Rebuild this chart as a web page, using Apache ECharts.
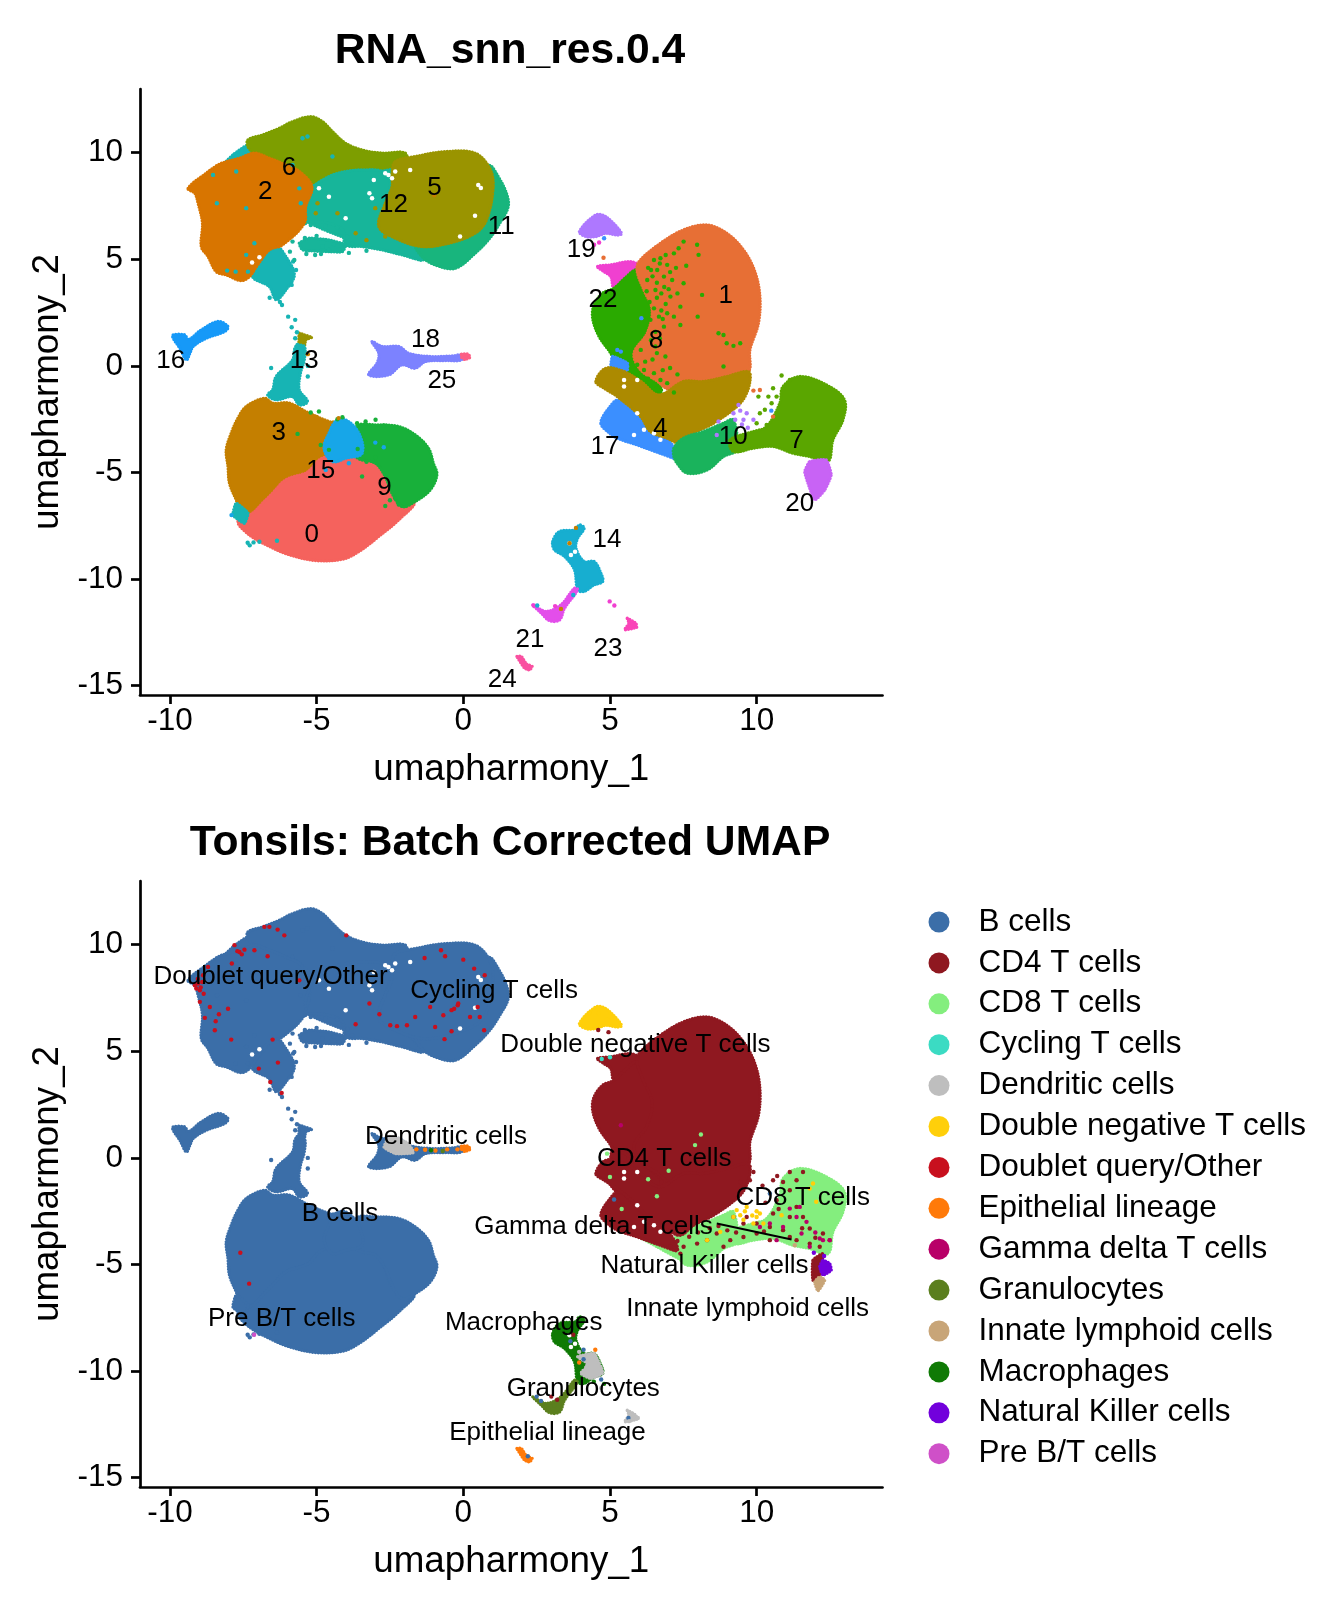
<!DOCTYPE html>
<html><head><meta charset="utf-8">
<script src="https://cdn.jsdelivr.net/npm/echarts@6/dist/echarts.min.js"></script>
<style>html,body{margin:0;padding:0;background:#fff}#c{width:1344px;height:1612px}</style></head>
<body><div id="c"></div>
<script>
const xTicks=[-10,-5,0,5,10];
const yTicks=[-15,-10,-5,0,5,10];
const cellTypes=['B cells','CD4 T cells','CD8 T cells','Cycling T cells','Dendritic cells','Double negative T cells','Doublet query/Other','Epithelial lineage','Gamma delta T cells','Granulocytes','Innate lymphoid cells','Macrophages','Natural Killer cells','Pre B/T cells'];
const cellColors=['#3B6EA8','#8F1820','#84EE7E','#3BDBC3','#BEBEBE','#FFCF0A','#C8101E','#FF7A0A','#B80068','#5B7F1E','#C8A578','#0F7A05','#7200DC','#CF50C8'];
const hue=['#F5625D','#E76F35','#D87500','#C47F00','#AC8A00','#9A9400','#7D9E00','#5AA600','#2AAA00','#18B03A','#1AB35C','#18B57D','#17B59A','#17B4B4','#17AED0','#17A6E8','#1699F8','#3B8FFF','#7C82FF','#AE78FF','#C863F5','#E34EEA','#F040D0','#F945B8','#F950A0','#FC5F85'];

// cluster outlines, in UMAP units
const out2=[[-9.38,8.33],[-8.76,9.04],[-8.36,9.43],[-8.08,9.58],[-7.63,9.74],[-7.12,9.98],[-6.61,9.74],[-6.05,9.43],[-5.59,9.12],[-5.16,8.41],[-5.37,7.47],[-5.42,6.69],[-6.16,5.68],[-6.61,5.44],[-7.01,4.74],[-7.29,4.19],[-7.57,4.0],[-8.08,4.27],[-8.42,4.42],[-8.7,5.13],[-8.93,5.6],[-8.89,6.69],[-9.04,7.63],[-9.15,8.1]];
const out6=[[-7.34,10.6],[-6.84,10.84],[-6.27,11.15],[-5.82,11.46],[-5.2,11.69],[-4.8,11.46],[-4.46,10.99],[-4.01,10.44],[-3.45,10.13],[-2.77,9.98],[-1.98,9.98],[-1.98,9.4],[-2.66,9.1],[-3.45,9.1],[-4.12,8.95],[-4.69,8.6],[-5.2,8.3],[-5.59,9.12],[-6.05,9.43],[-6.61,9.74],[-7.12,9.98],[-7.34,10.29]];
const outFrag=[[-8.14,9.51],[-7.85,9.9],[-7.34,10.37],[-7.12,10],[-7.63,9.74],[-8.08,9.43]];
const outFillUp=[[-5.2,8.4],[-2.5,9.2],[-1.5,9.4],[-1.6,5.4],[-2.5,5.7],[-4.0,6.0],[-5.3,6.8]];
const out12=[[-5.2,8.26],[-4.58,8.88],[-4.01,9.12],[-3.45,9.19],[-2.77,9.12],[-2.49,8.57],[-2.66,7.63],[-2.88,6.69],[-2.43,6.07],[-1.75,5.6],[-1.36,4.97],[-2.09,5.21],[-2.77,5.44],[-3.45,5.6],[-4.01,5.68],[-4.12,6.38],[-4.58,6.69],[-5.2,6.77],[-5.42,6.69],[-5.25,7.47]];
const outStripe=[[-5.59,5.75],[-5.25,5.99],[-4.58,5.91],[-4.01,5.68],[-4.12,5.36],[-4.58,5.36],[-5.48,5.44]];
const out5=[[-2.32,9.58],[-1.64,9.82],[-0.62,10.05],[0.4,9.98],[0.9,9.27],[1.02,8.41],[0.79,6.85],[0.4,6.22],[-0.51,5.75],[-1.41,5.6],[-2.32,5.99],[-2.88,6.54],[-2.66,7.63],[-2.43,8.41],[-2.43,9.04]];
const out11=[[0.9,9.4],[1.19,8.88],[1.47,8.1],[1.53,7.47],[1.24,6.69],[0.9,5.99],[0.4,5.28],[-0.28,4.58],[-0.96,4.74],[-1.41,5.13],[-1.64,5.8],[-0.51,6.2],[0.2,6.6],[0.6,7],[0.8,8.41]];
const outLobe=[[-7.18,4.19],[-6.84,4.97],[-6.38,5.6],[-6.05,5.13],[-5.76,4.27],[-6.05,3.56],[-6.38,3.1],[-6.61,3.72]];
const outStem=[[-5.71,0.91],[-5.42,0.91],[-5.42,0.28],[-5.55,-0.34],[-5.59,-1.13],[-5.31,-1.67],[-5.59,-1.83],[-5.82,-1.44],[-6.38,-1.59],[-6.67,-1.36],[-6.5,-1.13],[-6.38,-0.5],[-5.82,0.28]];
const outStemTop=[[-5.59,1.53],[-5.42,1.45],[-5.16,1.34],[-5.37,1.22],[-5.42,0.91],[-5.59,0.91]];
const out16=[[-9.89,1.45],[-9.49,1.45],[-9.38,1.22],[-8.93,1.69],[-8.36,2.08],[-8.02,1.84],[-8.14,1.61],[-8.76,1.3],[-9.21,0.91],[-9.32,0.59],[-9.44,0.28],[-9.66,0.83],[-9.89,1.3]];
const out18=[[-3.11,1.14],[-2.77,0.91],[-2.2,0.91],[-1.86,0.59],[-1.13,0.44],[-0.34,0.47],[-0.06,0.52],[-0.06,0.28],[-0.62,0.25],[-1.3,0.2],[-1.64,-0.11],[-2.09,0.05],[-2.54,-0.42],[-3.22,-0.42],[-2.94,0.13],[-2.88,0.59]];
const out25=[[-0.06,0.55],[0.17,0.55],[0.23,0.4],[0.05,0.3],[-0.06,0.4]];
const out3=[[-8.08,-3.94],[-7.91,-3.16],[-7.68,-2.45],[-7.4,-1.91],[-6.78,-1.52],[-6.5,-1.75],[-5.93,-1.75],[-5.37,-2.14],[-4.58,-2.61],[-4.2,-2.69],[-4.2,-3.31],[-4.4,-4.25],[-5.03,-4.72],[-5.37,-5.03],[-6.05,-5.35],[-6.5,-5.97],[-6.84,-6.44],[-7.18,-6.91],[-7.51,-7.07],[-7.74,-6.29],[-7.97,-5.5],[-8.02,-4.72]];
const out0=[[-7.68,-7.3],[-7.29,-7.93],[-6.61,-8.47],[-5.93,-8.86],[-5.03,-9.13],[-4.12,-9.07],[-3.56,-8.71],[-2.88,-8.0],[-2.2,-7.22],[-1.66,-6.36],[-2.43,-5.97],[-2.66,-5.19],[-2.88,-4.57],[-3.56,-4.2],[-4.46,-4.2],[-4.9,-4.4],[-5.2,-4.85],[-5.37,-5.03],[-6.05,-5.35],[-6.5,-5.97],[-6.84,-6.44],[-7.18,-6.91]];
const out9=[[-3.65,-2.85],[-2.99,-2.77],[-2.2,-2.85],[-1.64,-3.24],[-1.19,-3.86],[-1.02,-4.57],[-0.9,-5.11],[-1.13,-5.82],[-1.64,-6.36],[-2.09,-6.6],[-2.43,-5.97],[-2.66,-5.19],[-2.99,-4.57],[-3.65,-4.25]];
const out15=[[-4.35,-2.61],[-4.01,-2.53],[-3.56,-3.16],[-3.45,-4.1],[-4.01,-4.33],[-4.46,-4.49],[-4.75,-3.86],[-4.58,-3.16]];
const outLowTeal=[[-7.85,-7.0],[-7.74,-6.44],[-7.34,-6.91],[-7.46,-7.38]];
const out1=[[5.99,4.89],[6.72,5.75],[7.51,6.38],[8.31,6.61],[8.98,6.22],[9.55,5.44],[9.94,4.42],[10.11,3.25],[10.06,2.0],[9.77,0.75],[9.72,-0.27],[8.98,-0.7],[8.19,-1.0],[7.51,-1.0],[7.0,-1.1],[6.6,-0.7],[6.05,-0.19],[5.82,0.59],[6.27,1.53],[6.44,2.63],[6.16,3.56],[5.93,4.42]];
const out8=[[5.14,3.64],[5.5,4.1],[5.93,4.5],[6.3,3.56],[6.5,2.63],[6.3,1.53],[5.9,0.59],[6.1,-0.19],[6.72,-0.97],[6.72,-1.28],[6.2,-1.2],[5.6,-0.5],[5.2,0.1],[5.03,0.59],[4.63,1.38],[4.41,2.24],[4.46,2.86],[4.75,3.41]];
const out4=[[4.52,-0.73],[4.86,-0.11],[5.48,-0.27],[6.05,-0.73],[6.67,-1.36],[7.51,-0.73],[8.19,-0.73],[8.98,-0.5],[9.72,-0.27],[9.77,-0.73],[9.6,-1.44],[9.32,-1.91],[8.53,-2.69],[7.85,-3.16],[7.4,-3.63],[6.95,-3.39],[6.38,-3.08],[6.05,-2.38],[5.25,-1.44],[4.8,-1.05]];
const out10=[[7.18,-3.86],[7.51,-3.39],[8.19,-3.08],[8.87,-2.69],[9.21,-2.53],[9.3,-3.94],[8.87,-4.25],[8.31,-4.88],[7.63,-5.03],[7.29,-4.57],[7.18,-4.25]];
const out7=[[9.1,-3.47],[9.89,-3.08],[10.34,-2.85],[10.79,-1.75],[10.9,-0.97],[11.47,-0.5],[12.37,-0.89],[12.99,-1.59],[12.94,-2.53],[12.6,-3.47],[12.43,-4.49],[11.81,-4.25],[11.24,-4.1],[10.56,-3.78],[9.89,-3.86],[9.21,-4.02]];
const out20=[[11.81,-4.49],[12.37,-4.41],[12.54,-5.11],[12.32,-5.82],[11.98,-6.29],[11.75,-5.5],[11.64,-4.96]];
const out17=[[4.69,-2.69],[4.92,-2.06],[5.3,-1.6],[6.05,-2.5],[6.4,-3.0],[7.0,-3.5],[7.3,-4.33],[6.72,-4.1],[5.93,-3.71],[5.25,-3.39],[4.92,-3.08]];
const out17b=[[5.09,0.44],[5.59,0.13],[5.59,-0.19],[5.2,-0.42],[5.03,-0.03]];
const out22=[[4.58,4.66],[5.03,4.74],[5.71,4.89],[5.99,4.66],[5.59,3.96],[5.14,3.64],[5.03,4.19],[4.8,4.42]];
const out19=[[3.96,6.3],[4.52,7.08],[4.86,7.0],[5.4,6.22],[5.25,6.14],[4.86,6.22],[4.52,6.07],[4.18,6.07]];
const out14=[[3.05,-8.24],[3.28,-7.77],[3.84,-7.69],[3.95,-7.46],[4.12,-7.61],[3.9,-8.08],[3.84,-8.55],[4.12,-9.18],[4.46,-9.18],[4.69,-9.73],[4.75,-10.12],[4.46,-10.27],[4.12,-10.58],[3.9,-10.5],[3.79,-9.57],[3.45,-8.94],[3.11,-8.63]];
const out21=[[2.37,-11.21],[2.82,-11.52],[3.33,-11.21],[3.79,-10.43],[3.9,-10.5],[3.45,-11.37],[3.28,-11.92],[2.94,-11.95],[2.66,-11.6]];
const out23=[[5.59,-11.84],[5.88,-12.07],[5.91,-12.26],[5.5,-12.38],[5.65,-12.07]];
const out24=[[1.83,-13.63],[1.98,-13.63],[2.15,-13.98],[2.35,-14.1],[2.26,-14.26],[2.09,-14.18]];

// bottom-panel-only outlines
const outRim=[[5.93,-3.63],[6.95,-3.94],[7.74,-4.17],[7.51,-4.8],[6.61,-4.17]];
const outNK=[[12.26,-4.8],[12.49,-4.96],[12.54,-5.27],[12.26,-5.5],[12.15,-5.11]];
const outTail20=[[11.92,-4.8],[12.26,-4.49],[12.15,-5.43],[12.15,-5.82],[11.92,-5.74]];
const outILC=[[11.98,-5.82],[12.15,-5.58],[12.32,-5.74],[12.09,-6.24]];
const outDC=[[3.9,-9.33],[4.46,-9.18],[4.69,-9.8],[4.75,-10.11],[4.35,-10.35],[4.01,-10.11],[4.24,-9.65]];
const outDC18=[[-2.5,1.0],[-1.9,0.7],[-1.7,0.25],[-2.3,0.2],[-2.7,0.5]];
const outFillA=[[-8,8],[-5,10],[-3,8.7],[-2.5,7],[-3,6],[-4.2,6.7],[-5.3,6.8],[-7,6]];
const outFillB=[[-3,9],[0,9],[0.8,7],[-1,5.5],[-3,6]];
const outFillC=[[-7,-3],[-3,-3],[-2,-5],[-4,-8],[-7,-6]];
const outFillD=[[5.2,0.5],[7,-0.5],[8,-2],[7,-3.4],[5.5,-2],[4.9,-1]];

// loose points, top panel
const dots8=[[6.72,5.05],[6.95,4.74],[6.61,4.5],[7.18,5.28],[7.51,5.83],[7.97,5.68],[8.02,5.21],[7.34,5.52],[6.5,4.97],[6.84,4.19],[7.12,4.03],[7.51,3.88],[6.27,4.03],[6.55,3.56],[7.06,3.25],[7.4,2.78],[6.95,2.47],[7.18,2.31],[6.67,2.31],[6.38,2.16],[6.84,1.84],[7.4,1.92],[7.99,2.31],[8.14,3.33],[8.7,1.53],[8.87,1.45],[9.21,0.94],[9.44,1.06],[8.98,1.06],[8.87,-0.03],[6.5,-0.34],[6.16,-0.19],[5.93,0.05],[6.72,-0.66],[7.18,-1.25],[6.95,-0.81],[6.89,0.44],[6.55,0.91],[6.05,0.75],[6.3,4.6],[6.45,4.2],[6.7,4.8],[6.85,3.7],[6.6,3.2],[6.9,2.9],[6.35,3.0],[7.0,3.6],[7.25,4.6],[7.6,4.7],[7.3,3.4],[6.5,2.7],[6.8,2.2],[6.4,1.2],[6.6,0.6],[6.2,0.2],[6.3,-0.6],[6.5,-0.9],[7.05,4.4],[6.6,3.9],[6.25,3.5],[6.75,2.6],[6.55,1.6],[6.7,1.3],[6.45,0.3],[6.8,-0.2],[7.05,-0.1],[7.3,-0.4],[6.9,5.2],[6.4,4.5],[6.75,3.4]];
const dots7=[[10.85,-0.45],[10.56,-1.05],[10.4,-1.44],[10.06,-1.44],[10.28,-2.06],[10.34,-2.77],[10.0,-2.69],[11.13,-0.66],[10.9,-1.13],[10.68,-1.44],[10.51,-1.75],[10.11,-2.22]];
const dots19=[[9.38,-1.83],[9.21,-2.22],[9.66,-2.22],[9.55,-2.53],[9.27,-2.53],[9.89,-2.53],[8.64,-3.24],[8.7,-2.61],[9.44,-2.1],[9.5,-2.75],[9.7,-2.9]];
const dots1=[[4.78,5.07],[10.11,-1.13],[9.89,-1.16],[10.56,-2.38]];
const dots13=[[-8.53,8.96],[-7.74,9.12],[-8.4,7.63],[-7.4,7.4],[-5.59,8.33],[-5.54,7.63],[-7.12,5.75],[-7.4,5.21],[-7.76,4.42],[-8.05,4.47],[-7.34,4.42],[-5.48,10.68],[-5.31,10.76],[-4.46,9.82],[-5.82,9.43],[-6.18,2.86],[-5.97,2.31],[-5.73,2.16],[-5.85,1.81],[-5.67,1.58],[-5.73,1.3],[-5.65,0.98],[-6.55,-0.1],[-5.3,0.0],[-5.3,-0.5],[-7.35,-8.3],[-7.15,-8.28],[-6.95,-8.25],[-7.28,-8.42],[-6.35,-8.2],[-5.8,4.9],[-5.7,4.5],[-5.85,3.8],[-6.6,3.2],[-6.25,3.0],[-7.05,4.3]];
const dots12=[[-5.82,5.83],[-5.91,5.36],[-5.76,4.97],[-5.2,6.61],[-4.8,5.6],[-4.41,5.68],[-3.79,5.75],[-4.58,5.44],[-4.24,5.47],[-5.0,6.1],[-5.4,6.0],[-4.7,6.55],[-4.3,6.5],[-3.95,6.05],[-5.35,5.25],[-5.05,5.2],[-4.85,5.25],[-3.9,5.3],[-3.3,5.4]];
const dots5=[[-3.67,6.22],[-2.66,6.07],[-4.29,7.16],[-4.97,7.63],[-5.03,7.16],[-3.0,7.4],[-3.3,5.9]];
const dots9=[[-5.2,-2.19],[-4.92,-2.14],[-4.29,-2.5],[-4.12,-2.41],[-3.62,-2.69],[-3.33,-2.61],[-2.99,-2.53],[-2.71,-2.8],[-5.65,-3.19],[-4.86,-3.71],[-4.58,-3.94],[-3.45,-5.19],[-2.32,-6.21],[-2.66,-6.57],[-3.6,-3.9],[-3.3,-4.0],[-3.3,-4.5],[-3.0,-4.3],[-2.2,-6.5],[-2.5,-6.3]];
const dots15=[[-4.69,-4.88],[-2.71,-3.82],[-3.9,-4.57],[-7.9,-7.0],[-3.0,-3.6]];
const dots17=[[5.25,0.75],[5.37,0.67],[6.07,2.24],[10.5,-2.1],[6.72,-4.06],[4.8,5.99]];
const dots22=[[4.46,5.68],[4.63,5.79],[2.4,-11.24],[3.13,-11.27],[4.99,-11.05],[5.15,-11.24]];
const dots14=[[2.52,-11.24],[3.75,-10.75]];
const dots3=[[3.62,-8.32],[3.84,-7.6],[3.33,-11.4],[-5.3,0.55],[-0.99,8.0],[-5.0,-2.4],[-4.25,-2.45]];
const holes=[[-2.43,8.8],[-3.11,7.86],[-3.05,8.72],[-2.66,9.04],[-1.81,9.19],[-2.32,9.12],[0.51,8.49],[0.4,7.04],[-0.11,6.07],[-4.01,6.93],[-4.92,8.33],[-4.58,7.94],[-2.55,8.95],[-3.2,8.1],[0.6,8.35],[3.67,-8.87],[3.81,-8.72],[3.62,-8.32],[5.93,-2.22],[6.16,-3.0],[5.82,-3.24],[6.72,-3.47],[6.5,-3.16],[5.48,-0.97],[5.48,-0.66],[5.93,-0.66],[-6.95,5.1],[-7.2,4.85]];

// loose points, bottom panel
const ptsB=[[5.14,-1.95],[10.45,-1.67],[3.65,-8.6],[4.1,-9.0],[4.7,-10.4],[2.5,-11.2],[2.65,-11.4],[5.63,-12.2],[4.1,-9.45],[2.2,-14.0]];
const ptsCD4=[[9.89,-0.66],[9.77,-1.05],[9.44,-1.13],[10.56,-1.05],[11.13,-0.66],[11.58,-0.66],[11.36,-1.05],[10.9,-1.13],[11.13,-1.52],[10.68,-1.99],[11.36,-2.3],[11.13,-2.77],[10.56,-2.61],[10.9,-3.39],[10.45,-3.24],[11.58,-2.77],[11.81,-3.31],[12.26,-3.55],[12.49,-3.86],[12.15,-4.17],[11.81,-4.02],[11.36,-3.86],[11.13,-3.71],[10.0,-3.55],[9.55,-3.71],[9.1,-3.86],[8.64,-3.55],[8.31,-3.86],[7.97,-4.02],[7.51,-4.17],[7.06,-4.17],[7.4,-4.49],[8.87,-4.17],[10.45,-3.86],[10.0,-3.08],[9.55,-3.08],[9.21,-2.77],[9.66,-2.77],[4.6,6.0],[4.95,5.9],[3.75,-8.3],[3.0,-11.2],[3.2,-11.35],[8.0,-3.5],[8.4,-3.3],[8.7,-3.2],[9.0,-3.4],[7.7,-3.7],[7.3,-3.9],[10.2,-1.3],[10.7,-0.85],[10.3,-2.1],[10.75,-2.4],[11.55,-3.3],[12.0,-3.75],[10.25,-3.45],[9.3,-3.5]];
const ptsCD8=[[6.3,-1.0],[5.4,-2.4],[7.0,-0.6],[4.9,0.2],[5.0,-0.9],[6.6,-1.8],[7.9,0.6],[8.1,1.1]];
const ptsCycling=[[4.72,4.64],[5.0,4.72]];
const ptsDC=[[5.75,-12.0],[5.95,-12.2],[5.65,-12.35],[4.7,-10.8],[-2.2,0.9],[3.95,-9.1]];
const ptsDN=[[9.32,-2.45],[9.44,-2.69],[9.66,-2.3],[10.0,-2.77],[10.11,-2.61],[10.23,-3.08],[9.89,-3.08],[9.21,-2.77],[8.76,-3.47],[8.31,-3.86],[11.92,-1.2],[11.81,-1.44],[10.85,-2.69],[12.03,-2.06],[9.6,-2.5],[9.85,-2.7],[9.55,-2.9],[10.0,-2.5],[4.3,6.8],[4.6,6.8],[4.9,6.5]];
const ptsRed=[[-9.04,8.18],[-8.98,7.86],[-9.15,8.1],[-8.87,8.57],[-8.7,8.96],[-8.98,7.32],[-8.64,7.08],[-8.33,6.74],[-8.44,6.41],[-8.81,6.57],[-8.47,5.99],[-8.02,7.0],[-7.89,9.12],[-7.63,9.66],[-7.8,9.98],[-7.46,9.77],[-7.12,9.74],[-6.67,9.46],[-6.78,10.84],[-6.61,10.84],[-6.33,10.71],[-6.1,10.44],[-3.99,10.44],[-5.59,8.33],[-1.32,9.38],[-0.76,9.74],[-0.62,9.46],[0,9.3],[0.37,8.88],[0.73,8.57],[-0.19,7.16],[-0.4,6.93],[-0.68,6.69],[0.49,7.08],[0.56,6.61],[0.23,6.61],[0.71,5.99],[-0.4,5.94],[-0.64,5.57],[-0.96,6.14],[-1.13,7.08],[-1.64,6.61],[-2.26,6.18],[-2.49,6.22],[-2.86,6.74],[-3.2,7.24],[-3.67,6.27],[-6.32,4.47],[-6.97,4.19],[-6.58,3.56],[-6.19,3.05],[-6.5,5.55],[-7.91,5.55],[-0.17,7.24],[-0.31,7.0],[-1.92,6.22],[-7.3,-5.9],[-7.6,-4.45],[-9.05,8.4],[-8.95,8.0],[-7.7,9.7],[-7.55,9.55],[-9.1,7.95],[-8.9,8.25],[-8.85,7.7]];
const ptsEpi=[[-1.6,0.4],[-1.3,0.38],[-0.95,0.35],[-0.55,0.4],[-0.2,0.4],[-0.05,0.45],[0.05,0.5],[0.18,0.45],[4.5,-9.0],[3.95,-9.6]];
const ptsGamma=[[11.13,-2.38],[11.47,-2.3],[10.45,-3.08],[10.9,-3.24],[11.53,-3.55],[12.26,-3.86],[12.49,-3.86],[12.15,-3.78],[11.81,-4.17],[10.68,-3.86],[10.11,-3.24],[11.36,-2.77],[5.37,1.53],[12.0,-3.5],[11.7,-3.0]];
const ptsGran=[[-0.7,0.32],[2.9,-11.75],[3.1,-11.6]];
const ptsILC=[[11.3,-4.1],[12.1,-6.0]];
const ptsMac=[[-1.1,0.36],[4.05,-9.8],[4.45,-10.5],[3.95,-10.35],[4.8,-10.6]];
const ptsNK=[[12.3,-4.6],[11.95,-4.45],[12.4,-5.0]];
const ptsPre=[[-7.13,-8.3]];
const cellDots=[ptsB,ptsCD4,ptsCD8,ptsCycling,ptsDC,ptsDN,ptsRed,ptsEpi,ptsGamma,ptsGran,ptsILC,ptsMac,ptsNK,ptsPre];

const clusterLabels=['0','1','2','3','4','5','6','7','8','9','10','11','12','13','14','15','16','17','18','19','20','21','22','23','24','25'];
const clusterLabelX=[-5.17,8.95,-6.75,-6.29,6.71,-0.98,-5.94,11.36,6.57,-2.69,9.2,1.29,-2.38,-5.42,4.9,-4.86,-9.97,4.83,-1.29,4.02,11.47,2.27,4.76,4.93,1.33,-0.73];
const clusterLabelY=[-7.83,3.38,8.26,-3.04,-2.85,8.45,9.37,-3.43,1.26,-5.65,-3.24,6.62,7.63,0.34,-8.07,-4.83,0.34,-3.72,1.3,5.56,-6.38,-12.75,3.19,-13.19,-14.64,-0.63];
const cellLabels=['Doublet query/Other','Cycling T cells','Double negative T cells','Dendritic cells','CD4 T cells','CD8 T cells','B cells','Gamma delta T cells','Natural Killer cells','Innate lymphoid cells','Pre B/T cells','Macrophages','Granulocytes','Epithelial lineage'];
const cellLabelX=[-6.57,1.05,5.87,-0.59,6.85,11.57,-4.2,4.44,8.22,9.69,-6.19,2.06,4.09,2.87];
const cellLabelY=[8.6,7.92,5.41,1.06,0.05,-1.79,-2.51,-3.14,-4.98,-7.0,-7.44,-7.63,-10.72,-12.8];
const gammaSegment=[[8.64,-3.08],[11.19,-3.83]];

const FONT='"Liberation Sans", Arial, sans-serif';
const polyS=(poly,color,g)=>({type:'custom',name:'o',xAxisIndex:g,yAxisIndex:g,data:poly,encode:{x:0,y:1},silent:true,clip:true,
 renderItem:(p,api)=>{ if(p.dataIndex!==0) return null;
  const pts=poly.map(d=>api.coord(d));
  return {type:'polygon',shape:{points:pts,smooth:poly.length>7?0.35:0.15},style:{fill:color,stroke:color,lineWidth:3.4,lineCap:'round',lineJoin:'round',lineDash:[0,2.8]}};}});
const dotS=(name,pts,color,g,size)=>({type:'scatter',name,xAxisIndex:g,yAxisIndex:g,data:pts,symbolSize:size||4.4,itemStyle:{color,opacity:1},silent:true});
const labelS=(names,xs,ys,g)=>({type:'scatter',name:'l',xAxisIndex:g,yAxisIndex:g,symbolSize:0,silent:true,z:5,
 itemStyle:{opacity:1},
 data:names.map((n,i)=>[xs[i],ys[i],n]),
 label:{show:true,position:'inside',offset:[0,2],formatter:p=>p.value[2],fontSize:26,fontFamily:FONT,color:'#000',opacity:1}});

const series=[];
[[outFrag,13],[out6,6],[outFillUp,12],[out12,12],[outStripe,12],[out11,11],[out5,5],[outLobe,13],[out2,2],[outStemTop,5],[outStem,13],[out16,16],[out18,18],[out25,25],[out3,3],[out0,0],[out9,9],[out15,15],[outLowTeal,13],[out22,22],[out8,8],[out1,1],[out17,17],[out17b,17],[out4,4],[out10,10],[out7,7],[out20,20],[out19,19],[out14,14],[out21,21],[out23,23],[out24,24]].forEach(a=>series.push(polyS(a[0],hue[a[1]],0)));
series.push(dotS('h',holes,'#fff',0,4.5));
[[dots8,8],[dots7,7],[dots19,19],[dots1,1],[dots13,13],[dots12,12],[dots5,5],[dots9,9],[dots15,15],[dots17,17],[dots22,22],[dots14,14],[dots3,3]].forEach(a=>series.push(dotS('d',a[0],hue[a[1]],0)));
series.push(labelS(clusterLabels,clusterLabelX,clusterLabelY,0));

const C=Object.fromEntries(cellTypes.map((n,i)=>[n,cellColors[i]]));
[[outFillA,'B cells'],[outFillB,'B cells'],[outFillC,'B cells'],[outFillUp,'B cells'],[outFrag,'B cells'],[out6,'B cells'],[out12,'B cells'],[outStripe,'B cells'],[out11,'B cells'],[out5,'B cells'],[outLobe,'B cells'],[out2,'B cells'],[outStemTop,'B cells'],[outStem,'B cells'],[out16,'B cells'],[out18,'B cells'],[out3,'B cells'],[out0,'B cells'],[out9,'B cells'],[out15,'B cells'],[outLowTeal,'B cells'],[out25,'Epithelial lineage'],[outDC18,'Dendritic cells'],[out10,'CD8 T cells'],[out7,'CD8 T cells'],[outRim,'CD8 T cells'],[outFillD,'CD4 T cells'],[out22,'CD4 T cells'],[out8,'CD4 T cells'],[out1,'CD4 T cells'],[out17,'CD4 T cells'],[out17b,'CD4 T cells'],[out4,'CD4 T cells'],[outTail20,'CD4 T cells'],[outNK,'Natural Killer cells'],[outILC,'Innate lymphoid cells'],[out19,'Double negative T cells'],[out14,'Macrophages'],[outDC,'Dendritic cells'],[out21,'Granulocytes'],[out23,'Dendritic cells'],[out24,'Epithelial lineage']].forEach(a=>series.push(polyS(a[0],C[a[1]],1)));
series.push(dotS('h',holes,'#fff',1,4.5));
series.push(dotS('d',dots13,C['B cells'],1));
series.push(dotS('d',dots12,C['B cells'],1));
cellTypes.forEach((n,i)=>series.push(dotS(n,cellDots[i],cellColors[i],1)));
series.push({type:'line',name:'seg',xAxisIndex:1,yAxisIndex:1,data:gammaSegment,symbol:'none',lineStyle:{color:'#000',width:2},silent:true,z:4});
series.push(labelS(cellLabels,cellLabelX,cellLabelY,1));

const axisCommon={splitLine:{show:false},axisLine:{show:true,onZero:false,lineStyle:{color:'#000',width:2.7}},
 axisTick:{show:true,length:9,inside:false,lineStyle:{color:'#000',width:2.7}},
 nameLocation:'middle',nameTextStyle:{fontSize:36.8,fontFamily:FONT,color:'#000'}};
const xA=g=>({...axisCommon,type:'value',gridIndex:g,min:-11.02,max:14.29,name:'umapharmony_1',nameGap:56,
 axisTick:{...axisCommon.axisTick,customValues:xTicks},
 axisLabel:{customValues:xTicks,fontSize:31.5,fontFamily:FONT,color:'#000',margin:10,hideOverlap:false}});
const yA=g=>({...axisCommon,type:'value',gridIndex:g,min:-15.44,max:12.99,name:'umapharmony_2',nameGap:71,
 axisTick:{...axisCommon.axisTick,customValues:yTicks},
 axisLabel:{customValues:yTicks,fontSize:31.5,fontFamily:FONT,color:'#000',margin:17,padding:[4,0,0,0],hideOverlap:false}});

const chart=echarts.init(document.getElementById('c'),null,{renderer:'canvas'});
chart.setOption({animation:false,backgroundColor:'#fff',tooltip:{show:false},
 title:[{text:'RNA_snn_res.0.4',left:505,top:25,textAlign:'center',textStyle:{fontSize:42.6,fontWeight:'bold',fontFamily:FONT,color:'#000'}},
        {text:'Tonsils: Batch Corrected UMAP',left:505,top:817,textAlign:'center',textStyle:{fontSize:42.6,fontWeight:'bold',fontFamily:FONT,color:'#000'}}],
 grid:[{left:140,top:89,width:742.5,height:606},{left:140,top:881,width:742.5,height:606}],
 xAxis:[xA(0),xA(1)],yAxis:[yA(0),yA(1)],
 legend:{show:true,orient:'vertical',left:928.5,top:906,padding:0,itemWidth:21,itemHeight:21,itemGap:8.9,selectedMode:false,icon:'circle',
  data:cellTypes,textStyle:{fontSize:31.5,fontFamily:FONT,color:'#000',lineHeight:21,padding:[0,0,0,24]}},
 series});
</script></body></html>
